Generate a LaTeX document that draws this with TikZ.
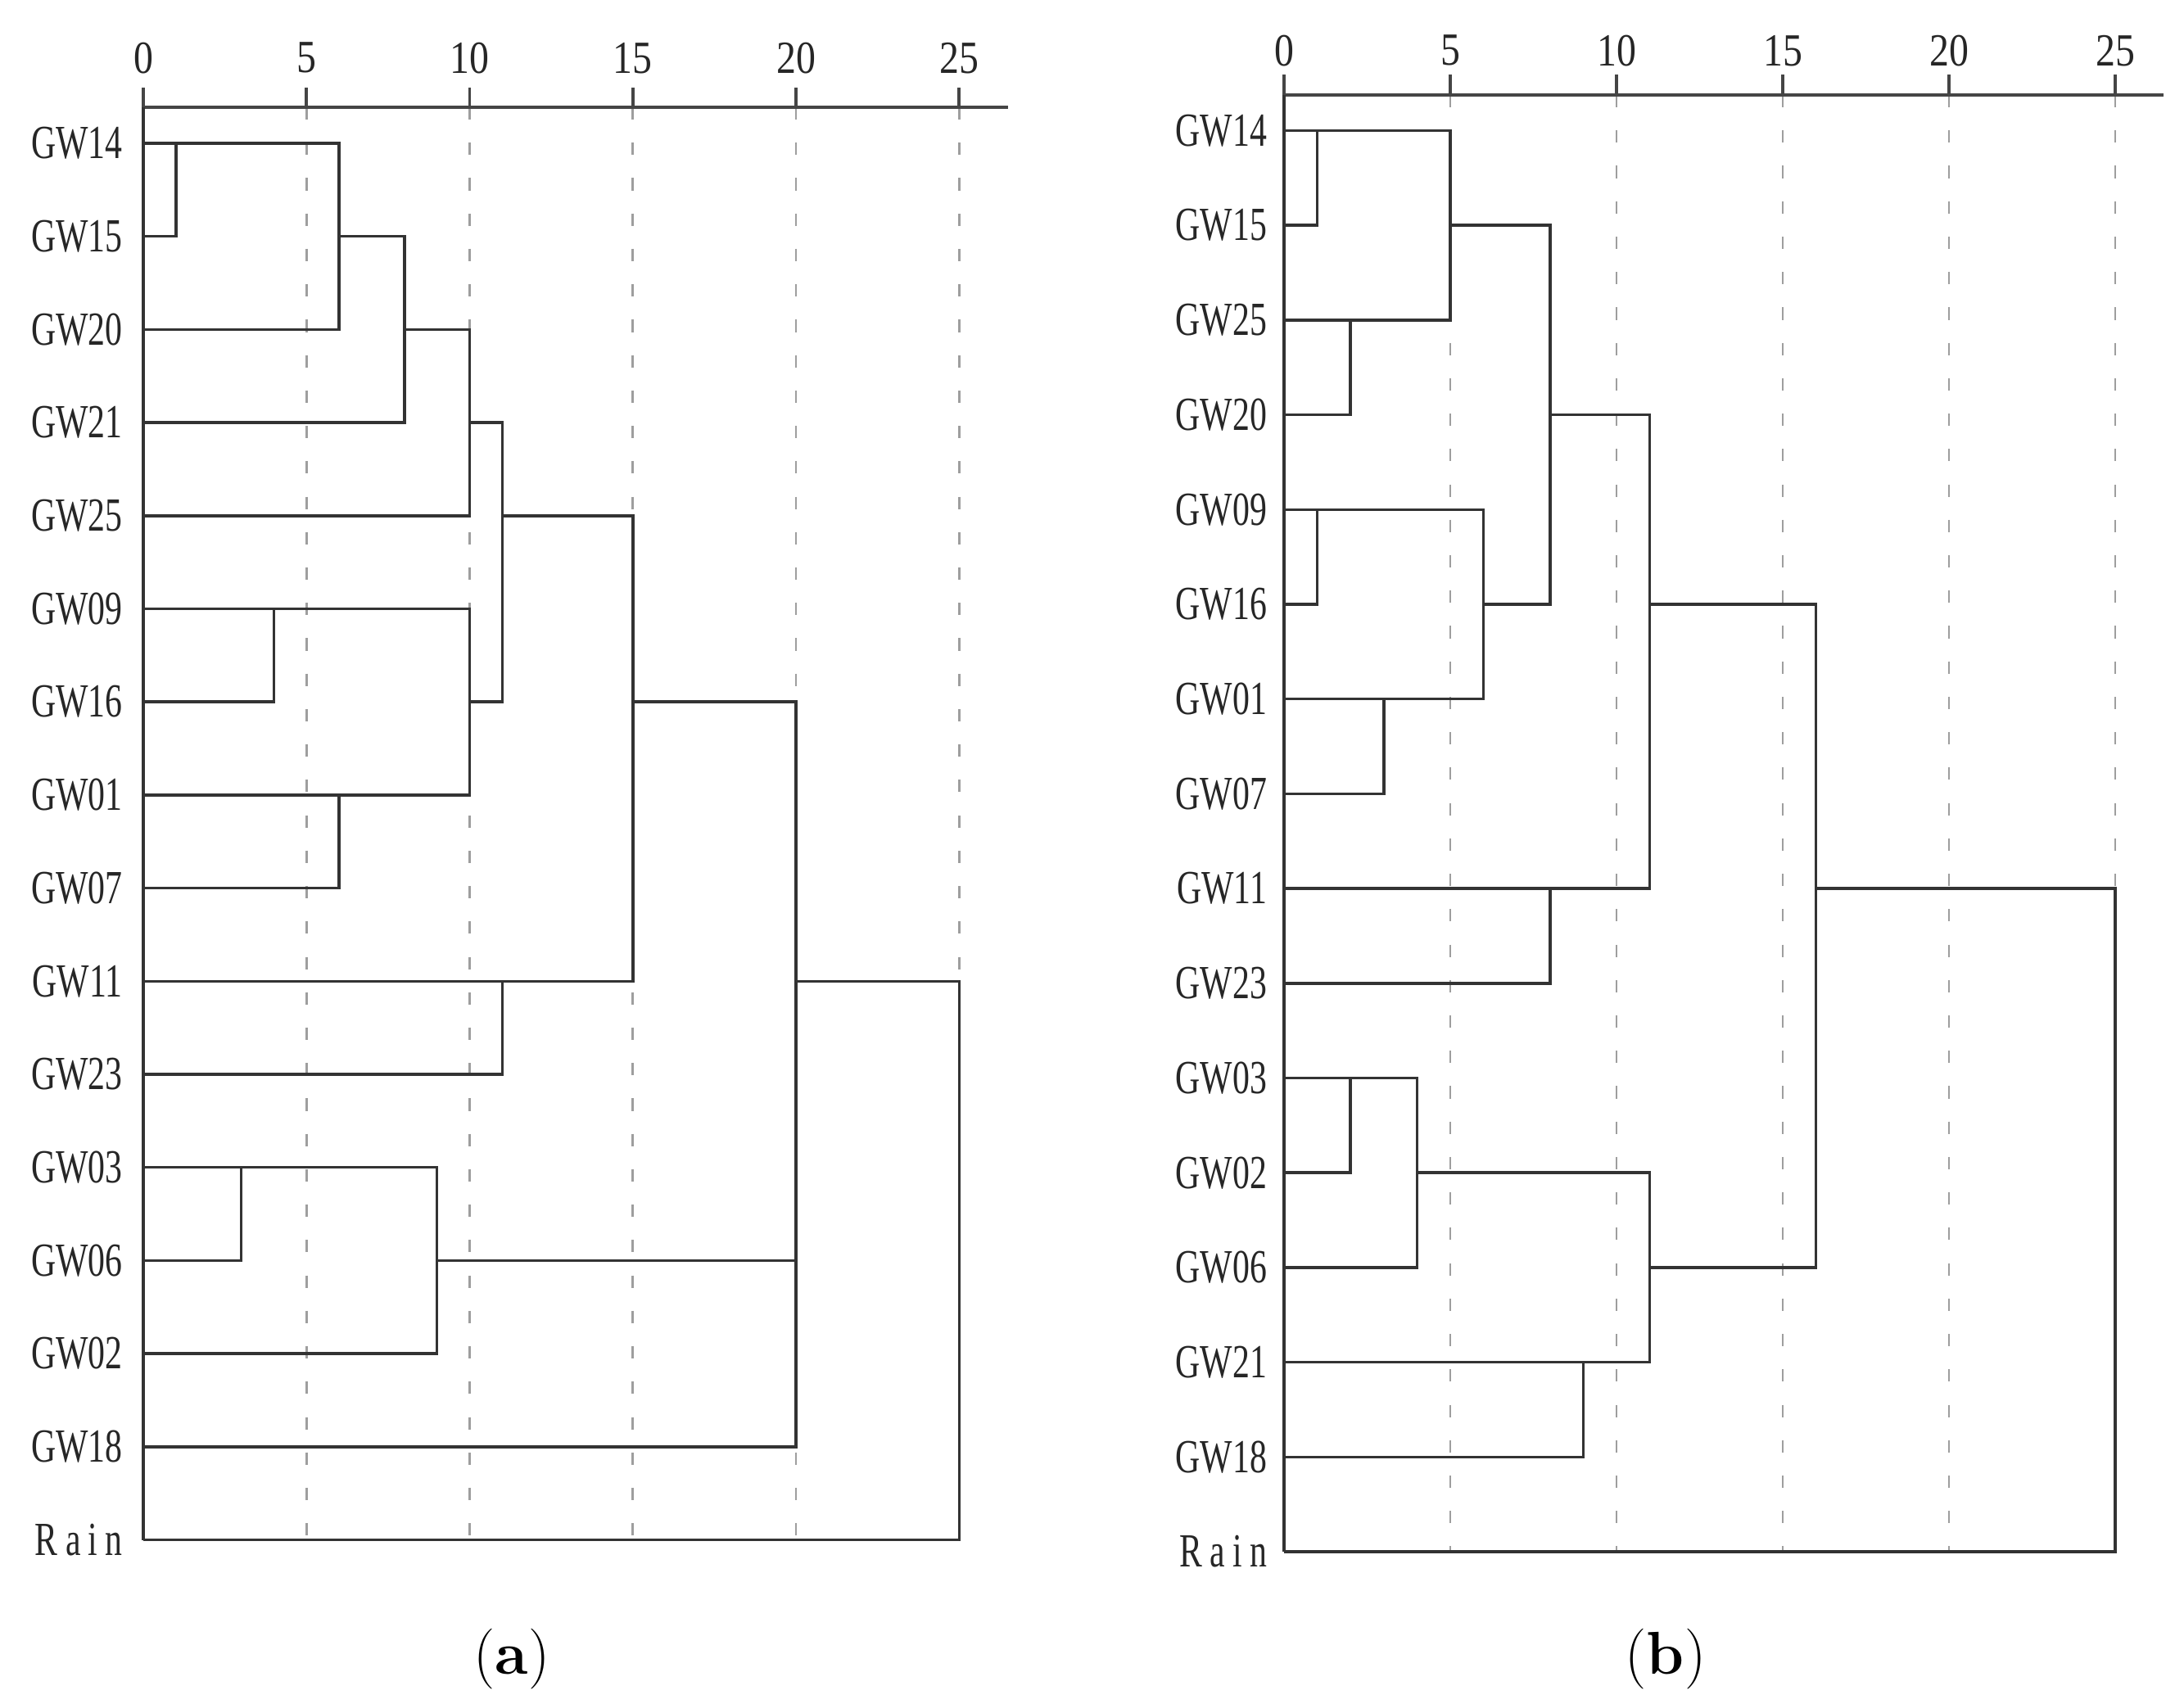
\documentclass[tikz,border=0pt]{standalone}
\usepackage{fontspec}
\usepackage{tikz}
\usetikzlibrary{positioning}
\newfontfamily\labfont[FakeStretch=0.72]{Liberation Serif}
\newfontfamily\rainfont[FakeStretch=0.72,LetterSpace=16]{Liberation Serif}
\newfontfamily\tickfont[FakeStretch=0.85]{Liberation Serif}
\definecolor{treegray}{gray}{0.2}
\definecolor{axisgray}{gray}{0.27}
\definecolor{gridgray}{gray}{0.62}
\tikzstyle{tr}=[%
      draw=treegray, line width=1pt
]
\tikzstyle{ax}=[%
      draw=axisgray, line width=1.1pt
]
\tikzstyle{gd}=[%
      draw=gridgray, line width=0.8pt, dash pattern=on 4.3pt off 8pt
]
\tikzstyle{lb}=[%
      anchor=east, inner sep=0pt, text=black!85, font=\labfont\fontsize{16.5}{18}\selectfont
]
\tikzstyle{tk}=[%
      inner sep=0pt, text=black!85, font=\tickfont\fontsize{16}{18}\selectfont
]
\tikzstyle{cp}=[%
      inner sep=0pt, font=\fontsize{21}{25}\selectfont
]
\begin{document}
\begin{tikzpicture}
    \useasboundingbox (0,0) rectangle (26.67,-20.80);

    % (a)
    \begin{scope}[shift={(1.75,-1.75)}, x=0.3985cm, y=-1.137cm]
    \foreach \t in {5,10,...,25}
        \draw[gd] (\t,-0.387) -- (\t,15);
    \draw[ax] (0,-0.387) -- (26.5,-0.387);
    \foreach \t in {0,5,...,25} {
        \draw[ax] (\t,-0.387) -- (\t,-0.598);
        \node[tk] (at\t) at (\t,-0.917) {\t};
    }
    \foreach \nm [count=\i from 0] in {GW14,GW15,GW20,GW21,GW25,GW09,GW16,GW01,GW07,GW11,GW23,GW03,GW06,GW02,GW18}
        \node[lb] (a\nm) at (-0.62,\i) {\nm};
    \node[lb, font=\rainfont\fontsize{16.5}{18}\selectfont] (aRain) at (-0.62,15) {Rain};

    \draw[tr] (0,-0.387) -- (0,15);
    \draw[tr] (0,0) -| (1,1) -- (0,1);
    \draw[tr] (0,0) -| (6,2) -- (0,2);
    \draw[tr] (6,1) -| (8,3) -- (0,3);
    \draw[tr] (8,2) -| (10,4) -- (0,4);
    \draw[tr] (10,3) -| (11,6) -- (10,6);
    \draw[tr] (11,4) -| (15,9) -- (0,9);
    \draw[tr] (0,5) -| (4,6) -- (0,6);
    \draw[tr] (0,5) -| (10,7) -- (0,7);
    \draw[tr] (0,7) -| (6,8) -- (0,8);
    \draw[tr] (15,6) -| (20,14) -- (0,14);
    \draw[tr] (20,9) -| (25,15) -- (0,15);
    \draw[tr] (0,9) -| (11,10) -- (0,10);
    \draw[tr] (0,11) -| (3,12) -- (0,12);
    \draw[tr] (0,11) -| (9,13) -- (0,13);
    \draw[tr] (9,12) -- (20,12);
    \end{scope}

    % (b)
    \begin{scope}[shift={(15.68,-1.595)}, x=0.406cm, y=-1.157cm]
    \foreach \t in {5,10,...,25}
        \draw[gd] (\t,-0.376) -- (\t,15);
    \draw[ax] (0,-0.376) -- (26.45,-0.376);
    \foreach \t in {0,5,...,25} {
        \draw[ax] (\t,-0.376) -- (\t,-0.592);
        \node[tk] (bt\t) at (\t,-0.845) {\t};
    }
    \foreach \nm [count=\i from 0] in {GW14,GW15,GW25,GW20,GW09,GW16,GW01,GW07,GW11,GW23,GW03,GW02,GW06,GW21,GW18}
        \node[lb] (b\nm) at (-0.5,\i) {\nm};
    \node[lb, font=\rainfont\fontsize{16.5}{18}\selectfont] (bRain) at (-0.5,15) {Rain};

    \draw[tr] (0,-0.376) -- (0,15);
    \draw[tr] (0,0) -| (1,1) -- (0,1);
    \draw[tr] (0,0) -| (5,2) -- (0,2);
    \draw[tr] (0,2) -| (2,3) -- (0,3);
    \draw[tr] (5,1) -| (8,5) -- (6,5);
    \draw[tr] (8,3) -| (11,8) -- (0,8);
    \draw[tr] (0,4) -| (1,5) -- (0,5);
    \draw[tr] (0,4) -| (6,6) -- (0,6);
    \draw[tr] (0,6) -| (3,7) -- (0,7);
    \draw[tr] (11,5) -| (16,12) -- (11,12);
    \draw[tr] (16,8) -| (25,15) -- (0,15);
    \draw[tr] (0,8) -| (8,9) -- (0,9);
    \draw[tr] (0,10) -| (2,11) -- (0,11);
    \draw[tr] (0,10) -| (4,12) -- (0,12);
    \draw[tr] (4,11) -| (11,13) -- (0,13);
    \draw[tr] (0,13) -| (9,14) -- (0,14);
    \end{scope}

    \node[cp] (capa) at (6.25,-20.26) {(\textbf{a})};
    \node[cp] (capb) at (20.34,-20.26) {(\textbf{b})};
\end{tikzpicture}
\end{document}
